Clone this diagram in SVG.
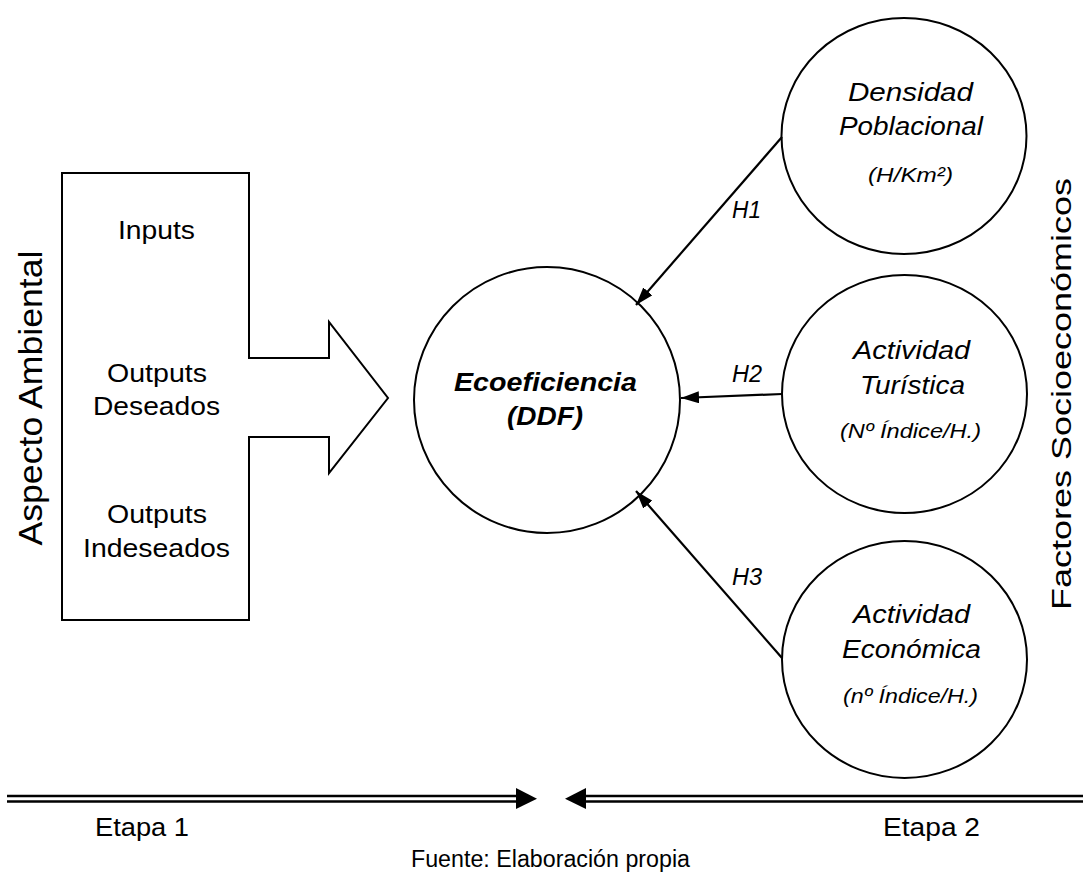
<svg xmlns="http://www.w3.org/2000/svg" width="1083" height="877" viewBox="0 0 1083 877">
<defs>
<style>
text{font-family:"Liberation Sans",Arial,sans-serif;fill:#000}
.t{font-size:25px}
.i{font-size:25px;font-style:italic}
.s{font-size:21px;font-style:italic}
.h{font-size:23px;font-style:italic}
.b{font-size:26px;font-style:italic;font-weight:bold}
.shape{fill:#fff;stroke:#000;stroke-width:2}
.conn{stroke:#000;stroke-width:2.2;fill:none}
.dbl{stroke:#000;stroke-width:2.6}
</style>
<marker id="ah" viewBox="0 0 18 12" refX="18" refY="6" markerWidth="18" markerHeight="12" markerUnits="userSpaceOnUse" orient="auto">
<path d="M0,0 L18,6 L0,12 z" fill="#000"/>
</marker>
</defs>
<rect width="1083" height="877" fill="#fff"/>

<g id="aspecto-ambiental">
<polygon class="shape" points="62,173 249,173 249,358 329,358 329,322 388,398 329,473 329,437 249,437 249,620 62,620"/>
<text class="t" x="118" y="239" textLength="77" lengthAdjust="spacingAndGlyphs">Inputs</text>
<text class="t" x="107" y="382" textLength="100" lengthAdjust="spacingAndGlyphs">Outputs</text>
<text class="t" x="93" y="415" textLength="127" lengthAdjust="spacingAndGlyphs">Deseados</text>
<text class="t" x="107" y="523" textLength="100" lengthAdjust="spacingAndGlyphs">Outputs</text>
<text class="t" x="83" y="557" textLength="147" lengthAdjust="spacingAndGlyphs">Indeseados</text>
</g>
<g id="label-aspecto">
<text style="font-size:33px" transform="translate(42,398) rotate(-90)" text-anchor="middle" textLength="295" lengthAdjust="spacingAndGlyphs">Aspecto Ambiental</text>
</g>
<g id="label-factores">
<text style="font-size:27px" transform="translate(1071,394) rotate(-90)" text-anchor="middle" textLength="432" lengthAdjust="spacingAndGlyphs">Factores Socioeconómicos</text>
</g>

<g id="ecoeficiencia">
<circle class="shape" cx="547" cy="400" r="133"/>
<text class="b" x="454" y="391" textLength="183" lengthAdjust="spacingAndGlyphs">Ecoeficiencia</text>
<text class="b" x="507" y="425" textLength="76" lengthAdjust="spacingAndGlyphs">(DDF)</text>
</g>

<g id="densidad">
<ellipse class="shape" cx="904" cy="136" rx="122.5" ry="118"/>
<text class="i" x="848" y="101" textLength="125" lengthAdjust="spacingAndGlyphs">Densidad</text>
<text class="i" x="839" y="135" textLength="144" lengthAdjust="spacingAndGlyphs">Poblacional</text>
<text class="s" x="868" y="182" textLength="85" lengthAdjust="spacingAndGlyphs">(H/Km²)</text>
</g>

<g id="turistica">
<ellipse class="shape" cx="904.5" cy="394" rx="122.5" ry="119"/>
<text class="i" x="853" y="359" textLength="117" lengthAdjust="spacingAndGlyphs">Actividad</text>
<text class="i" x="860" y="394" textLength="105" lengthAdjust="spacingAndGlyphs">Turística</text>
<text class="s" x="840" y="438" textLength="141" lengthAdjust="spacingAndGlyphs">(Nº Índice/H.)</text>
</g>

<g id="economica">
<ellipse class="shape" cx="904.5" cy="659.5" rx="122.5" ry="118.5"/>
<text class="i" x="853" y="623" textLength="117" lengthAdjust="spacingAndGlyphs">Actividad</text>
<text class="i" x="842" y="658" textLength="139" lengthAdjust="spacingAndGlyphs">Económica</text>
<text class="s" x="843" y="703" textLength="135" lengthAdjust="spacingAndGlyphs">(nº Índice/H.)</text>
</g>

<g id="connectors">
<line class="conn" x1="782" y1="137" x2="636" y2="305" marker-end="url(#ah)"/>
<line class="conn" x1="782" y1="394" x2="681" y2="398" marker-end="url(#ah)"/>
<line class="conn" x1="782" y1="658" x2="636" y2="491" marker-end="url(#ah)"/>
<text class="h" x="732" y="218" textLength="29" lengthAdjust="spacingAndGlyphs">H1</text>
<text class="h" x="732" y="382" textLength="30" lengthAdjust="spacingAndGlyphs">H2</text>
<text class="h" x="732" y="585" textLength="30" lengthAdjust="spacingAndGlyphs">H3</text>
</g>

<g id="etapas">
<line class="dbl" x1="7" y1="796" x2="517" y2="796"/>
<line class="dbl" x1="7" y1="801.5" x2="517" y2="801.5"/>
<polygon points="516,788 537,798.7 516,809" fill="#000"/>
<line class="dbl" x1="585" y1="796" x2="1083" y2="796"/>
<line class="dbl" x1="585" y1="801.5" x2="1083" y2="801.5"/>
<polygon points="586,788 565,798.7 586,809" fill="#000"/>
<text style="font-size:26px" x="95" y="836" textLength="94" lengthAdjust="spacingAndGlyphs">Etapa 1</text>
<text style="font-size:26px" x="883" y="836" textLength="97" lengthAdjust="spacingAndGlyphs">Etapa 2</text>
<text style="font-size:23px" x="411" y="867" textLength="279" lengthAdjust="spacingAndGlyphs">Fuente: Elaboración propia</text>
</g>
</svg>
